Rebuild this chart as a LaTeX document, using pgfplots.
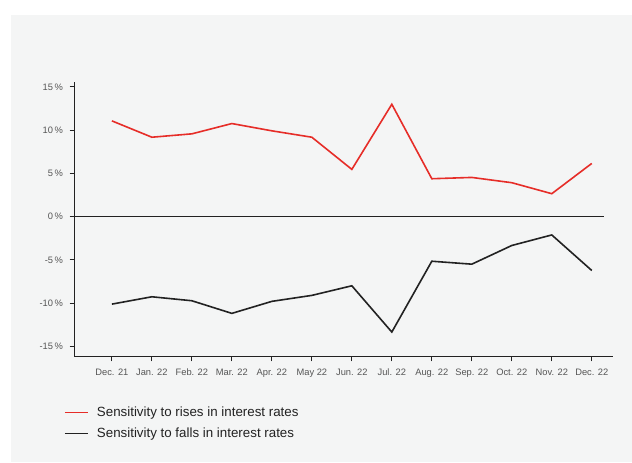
\documentclass[border=0pt]{standalone}
\usepackage{fontspec}
\setmainfont{Liberation Sans}
\usepackage{pgfplots}
\pgfplotsset{compat=1.18}
\definecolor{bgc}{RGB}{244,245,245}
\definecolor{rred}{RGB}{230,45,40}
\definecolor{dblk}{RGB}{34,34,34}
\definecolor{tickc}{RGB}{85,85,85}
\begin{document}
\begin{tikzpicture}[x=0.75pt,y=0.75pt]
\fill[white] (0,0) rectangle (632,462);
\fill[bgc] (11,0) rectangle (632,447);
\begin{axis}[
  at={(55.725pt,78.975pt)}, anchor=south west,
  scale only axis, width=404.0pt, height=206.25pt,
  xmin=-0.94, xmax=12.53, ymin=-16.2, ymax=15.6,
  axis x line=bottom, axis y line=left,
  axis line style={-, line width=0.75pt, draw=dblk},
  xtick={0,...,12},
  xticklabels={Dec. 21,Jan. 22,Feb. 22,Mar. 22,Apr. 22,May 22,Jun. 22,Jul. 22,Aug. 22,Sep. 22,Oct. 22,Nov. 22,Dec. 22},
  ytick={-15,-10,-5,0,5,10,15},
  yticklabels={-15\,\%,-10\,\%,-5\,\%,0\,\%,5\,\%,10\,\%,15\,\%},
  tick align=outside,
  major tick length=3.5pt,
  tick style={line width=0.75pt, draw=dblk},
  ticklabel style={font=\fontsize{7}{8}\selectfont, text=tickc},
  xticklabel style={yshift=-2pt},
  yticklabel style={xshift=-1.5pt},
  /pgf/number format/assume math mode=true,
  legend style={at={(-0.019,-0.170)}, anchor=north west, draw=none, fill=none,
     font=\fontsize{10}{12}\selectfont, text=dblk,
     row sep=3.5pt, inner sep=0pt,
     /tikz/every odd column/.append style={column sep=4.5pt}},
  legend image post style={line width=0.9pt},
  legend cell align=left,
  clip=false,
]
\addplot[rred, line width=1.2pt] coordinates {
(0,11.07) (1,9.18) (2,9.57) (3,10.76) (4,9.92) (5,9.18) (6,5.46)
(7,12.99) (8,4.38) (9,4.53) (10,3.92) (11,2.65) (12,6.15)};
\addlegendentry{Sensitivity to rises in interest rates}
\addplot[dblk, line width=1.2pt] coordinates {
(0,-10.12) (1,-9.27) (2,-9.73) (3,-11.19) (4,-9.8) (5,-9.11) (6,-8.0)
(7,-13.35) (8,-5.16) (9,-5.5) (10,-3.34) (11,-2.12) (12,-6.23)};
\addlegendentry{Sensitivity to falls in interest rates}
\addplot[dblk, line width=0.75pt, forget plot] coordinates {(-0.94,0) (12.31,0)};
\end{axis}
\end{tikzpicture}
\end{document}
